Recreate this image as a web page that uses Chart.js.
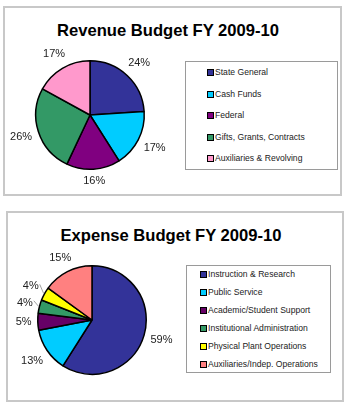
<!DOCTYPE html>
<html>
<head>
<meta charset="utf-8">
<script src="https://cdn.jsdelivr.net/npm/chart.js@4/dist/chart.umd.min.js"></script>
<style>
  html, body { margin: 0; padding: 0; background: #fff; }
  body { width: 350px; height: 410px; position: relative; overflow: hidden; font-family: "Liberation Sans", Arial, sans-serif; }
  .frame { position: absolute; border: 2px solid #c8c8c8; box-sizing: border-box; background: #fff; }
  .title { position: absolute; font-weight: bold; font-size: 16.6px; color: #000; text-align: center; white-space: nowrap; }
  .legend { position: absolute; border: 1px solid #9a9a9a; box-sizing: border-box; background: #fff; }
  .item { position: absolute; font-size: 8.6px; color: #222; white-space: nowrap; line-height: 10px; }
  .item span.box { position: absolute; width: 5px; height: 5px; border: 1px solid #000; top: 2px; }
  canvas { position: absolute; }
</style>
</head>
<body>
<div class="frame" style="left:3px; top:6px; width:339px; height:190px;"></div>
<div class="frame" style="left:6px; top:211px; width:338px; height:191px;"></div>

<div class="title" style="left:3px; width:330px; top:21px;">Revenue Budget FY 2009-10</div>
<div class="title" style="left:6px; width:330px; top:226px;">Expense Budget FY 2009-10</div>

<div class="legend" id="legTop" style="left:185px; top:61px; width:153px; height:109px;"></div>
<div class="legend" id="legBot" style="left:186px; top:265px; width:145px; height:108px;"></div>

<canvas id="revChart" width="185" height="155" style="left:0px; top:45px;"></canvas>
<canvas id="expChart" width="185" height="155" style="left:0px; top:250px;"></canvas>

<script>
// ---- Data ----
const revenueCategories = ["State General", "Cash Funds", "Federal", "Gifts, Grants, Contracts", "Auxiliaries & Revolving"];
const revenueValues = [24, 17, 16, 26, 17];
const revenueColors = ["#333399", "#00CCFF", "#800080", "#339966", "#FF99CC"];

const expenseCategories = ["Instruction & Research", "Public Service", "Academic/Student Support", "Institutional Administration", "Physical Plant Operations", "Auxiliaries/Indep. Operations"];
const expenseValues = [59, 13, 5, 4, 4, 15];
const expenseColors = ["#333399", "#00CCFF", "#660066", "#339966", "#FFFF00", "#FF8080"];

// ---- Percent label plugin ----
const pctLabels = {
  id: 'pctLabels',
  afterDatasetsDraw(chart, args, opts) {
    const ctx = chart.ctx;
    const meta = chart.getDatasetMeta(0);
    const vals = chart.data.datasets[0].data;
    ctx.save();
    ctx.font = '11px "Liberation Sans", Arial, sans-serif';
    ctx.fillStyle = '#222';
    ctx.textAlign = 'center';
    ctx.textBaseline = 'middle';
    meta.data.forEach((arc, i) => {
      const p = arc.getProps(['x', 'y', 'startAngle', 'endAngle', 'outerRadius'], true);
      const mid = (p.startAngle + p.endAngle) / 2;
      const cx = Math.cos(mid), sy = Math.sin(mid);
      const text = vals[i] + '%';
      const w = ctx.measureText(text).width;
      const h = 11;
      const d = p.outerRadius + 6 + Math.abs(cx) * w / 2 + Math.abs(sy) * h / 2;
      const lx = p.x + cx * d, ly = p.y + sy * d;
      ctx.fillText(text, lx, ly);
      if (opts.leaderMax && vals[i] <= opts.leaderMax) {
        ctx.beginPath();
        ctx.strokeStyle = '#888';
        ctx.lineWidth = 0.8;
        const sx = lx + w / 2 + 1;
        ctx.moveTo(sx, ly - 2);
        ctx.lineTo(p.x + cx * (p.outerRadius + 1), p.y + sy * (p.outerRadius + 1));
        ctx.stroke();
      }
    });
    ctx.restore();
  }
};

function makePie(id, values, colors, labels, padding, leaderMax) {
  return new Chart(document.getElementById(id), {
    type: 'pie',
    data: {
      labels: labels,
      datasets: [{
        data: values,
        backgroundColor: colors,
        borderColor: '#000',
        borderWidth: 1.5
      }]
    },
    options: {
      responsive: false,
      animation: false,
      layout: { padding: padding },
      plugins: {
        legend: { display: false },
        tooltip: { enabled: false },
        pctLabels: { leaderMax: leaderMax }
      }
    },
    plugins: [pctLabels]
  });
}

makePie('revChart', revenueValues, revenueColors, revenueCategories, {left: 35, top: 15, right: 40, bottom: 30}, 0);
makePie('expChart', expenseValues, expenseColors, expenseCategories, {left: 37, top: 15, right: 38, bottom: 30}, 4);

// ---- HTML legends ----
function buildLegend(elId, cats, colors, firstTop, step, boxLeft) {
  const el = document.getElementById(elId);
  cats.forEach((c, i) => {
    const it = document.createElement('div');
    it.className = 'item';
    it.style.left = boxLeft + 'px';
    it.style.top = (firstTop + i * step) + 'px';
    it.style.paddingLeft = '8px';
    const b = document.createElement('span');
    b.className = 'box';
    b.style.left = '0px';
    b.style.background = colors[i];
    it.appendChild(b);
    it.appendChild(document.createTextNode(c));
    el.appendChild(it);
  });
}
buildLegend('legTop', revenueCategories, revenueColors, 5, 21.5, 21);
buildLegend('legBot', expenseCategories, expenseColors, 3, 18, 13);
</script>
</body>
</html>
